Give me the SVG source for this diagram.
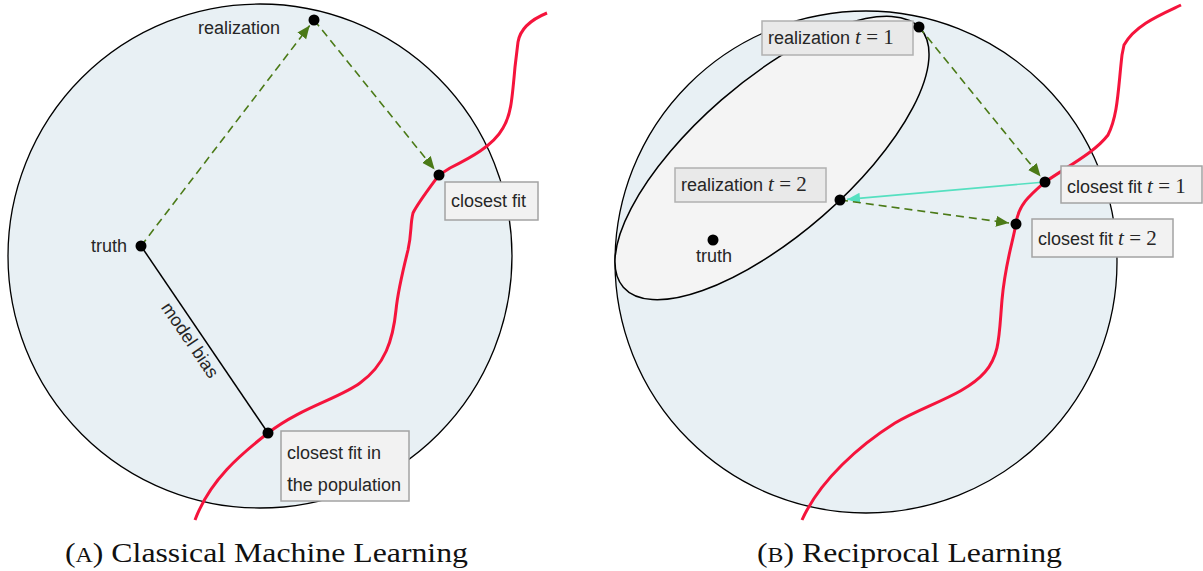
<svg xmlns="http://www.w3.org/2000/svg" width="1203" height="571" viewBox="0 0 1203 571">
<style>
.lbl{font-family:"Liberation Sans",Arial,sans-serif;font-size:18px;fill:#262626}
.math{font-family:"Liberation Serif","Times New Roman",serif;font-size:21px;fill:#262626}
.mi{font-style:italic}
.box{fill:#f2f2f2;stroke:#a3a3a3;stroke-width:1.5}
.box2{fill:#e9e9e9;stroke:#b0b0b0;stroke-width:1.5}
.dot{fill:#000}
.ball{fill:#e8f0f4;stroke:#000;stroke-width:1.3}
.red{fill:none;stroke:#f5143c;stroke-width:3}
.dash{fill:none;stroke:#4b7a17;stroke-width:1.6;stroke-dasharray:8 5}
.cyan{fill:none;stroke:#55e0c0;stroke-width:1.6}
.cap{font-family:"Liberation Serif","Times New Roman",serif;font-size:28px;fill:#111}
</style>
<defs>
<marker id="ag" markerUnits="userSpaceOnUse" markerWidth="14" markerHeight="12" refX="13" refY="5.5" orient="auto"><path d="M0,0 L13,5.5 L0,11 z" fill="#4b7a17"/></marker>
<marker id="ac" markerUnits="userSpaceOnUse" markerWidth="14" markerHeight="12" refX="13" refY="5.5" orient="auto"><path d="M0,0 L13,5.5 L0,11 z" fill="#55e0c0"/></marker>
</defs>

<!-- Panel A -->
<g id="ballA"><circle class="ball" cx="260" cy="256" r="252"/></g>
<g id="modelA"><path class="red" d="M547,13 C530,20 520,30 518,42 L515,67 C512,100 511,115 503,128 C493,146 470,158 450,168 L439,175 C428,190 418,203 413,213 C410,225 412,232 408,250 C403,270 398,290 396,310 C393,340 385,365 360,383 C340,398 300,408 268,433 C240,455 210,480 195,520"/></g>
<g id="connectorsA">
<line x1="141" y1="246" x2="268" y2="433" stroke="#000" stroke-width="1.5"/>
<line class="dash" x1="141" y1="246" x2="309.7" y2="25.6" marker-end="url(#ag)"/>
<line class="dash" x1="314" y1="20" x2="434.6" y2="169.5" marker-end="url(#ag)"/>
<text class="lbl" transform="translate(190,340) rotate(55.8)" text-anchor="middle" y="6">model bias</text>
</g>
<g id="truthA"><circle class="dot" cx="141" cy="246" r="5.5"/><text class="lbl" x="127" y="252" text-anchor="end">truth</text></g>
<g id="realizationA"><circle class="dot" cx="314" cy="20" r="5.5"/><text class="lbl" x="280" y="34" text-anchor="end">realization</text></g>
<g id="closestfitA"><circle class="dot" cx="439" cy="175" r="5.5"/><rect class="box" x="445" y="182" width="93" height="38"/><text class="lbl" x="451" y="207">closest fit</text></g>
<g id="closestpopA"><circle class="dot" cx="268" cy="433" r="5.5"/><rect class="box" x="281" y="431" width="128" height="70"/><text class="lbl" x="287" y="459">closest fit in</text><text class="lbl" x="287" y="491"><tspan font-size="21">t</tspan>he population</text></g>

<!-- Panel B -->
<g id="ballB"><circle class="ball" cx="866" cy="262" r="251"/></g>
<g id="ellipseB"><ellipse cx="772" cy="158" rx="197" ry="77" transform="rotate(-41 772 158)" fill="#f4f4f4" stroke="#000" stroke-width="1.5"/></g>
<g id="modelB"><path class="red" d="M1181,5 C1160,15 1135,25 1124,45 L1122,55 C1118,90 1118,115 1108,135 C1095,152 1070,165 1045,182 C1030,195 1018,205 1016,224 C1012,245 1005,265 1002,300 C999,335 1000,355 985,372 C965,395 925,405 895,423 C860,445 820,480 802,520"/></g>
<g id="connectorsB">
<line class="dash" x1="919" y1="27" x2="1040.6" y2="176.6" marker-end="url(#ag)"/>
<line class="cyan" x1="1045" y1="182" x2="847" y2="199.4" marker-end="url(#ac)"/>
<line class="dash" x1="840" y1="200" x2="1009" y2="223" marker-end="url(#ag)"/>
</g>
<g id="truthB"><circle class="dot" cx="713" cy="240" r="5.5"/><text class="lbl" x="714" y="262" text-anchor="middle">truth</text></g>
<g id="real1B"><rect class="box2" x="762" y="21" width="151" height="34"/><circle class="dot" cx="919" cy="27" r="5.5"/><text class="lbl" x="768" y="44">realization <tspan class="math mi">t</tspan><tspan class="math"> = 1</tspan></text></g>
<g id="real2B"><rect class="box2" x="675" y="168" width="151" height="34"/><circle class="dot" cx="840" cy="200" r="5.5"/><text class="lbl" x="681" y="191">realization <tspan class="math mi">t</tspan><tspan class="math"> = 2</tspan></text></g>
<g id="fit1B"><circle class="dot" cx="1045" cy="182" r="5.5"/><rect class="box" x="1061" y="166" width="141" height="37"/><text class="lbl" x="1067" y="193">closest fit <tspan class="math mi">t</tspan><tspan class="math"> = 1</tspan></text></g>
<g id="fit2B"><circle class="dot" cx="1016" cy="224" r="5.5"/><rect class="box" x="1032" y="219" width="141" height="38"/><text class="lbl" x="1038" y="245">closest fit  <tspan class="math mi">t</tspan><tspan class="math"> = 2</tspan></text></g>

<!-- Captions -->
<text class="cap" x="65" y="562" textLength="403" lengthAdjust="spacingAndGlyphs">(<tspan font-size="21">A</tspan>) Classical Machine Learning</text>
<text class="cap" x="757" y="562" textLength="305" lengthAdjust="spacingAndGlyphs">(<tspan font-size="21">B</tspan>) Reciprocal Learning</text>
</svg>
